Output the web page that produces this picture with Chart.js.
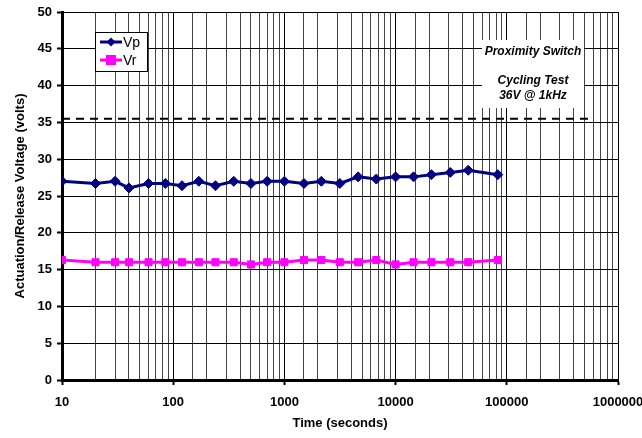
<!DOCTYPE html>
<html>
<head>
<meta charset="utf-8">
<script src="https://cdn.jsdelivr.net/npm/chart.js@4"></script>
<style>
  html, body { margin: 0; padding: 0; background: #fff; }
  #wrap { width: 642px; height: 438px; }
</style>
</head>
<body>
<div id="wrap"><canvas id="myChart" width="642" height="438"></canvas></div>
<script>
// time in seconds (log axis)
var times = [10, 20, 30, 40, 60, 85, 120, 170, 240, 350, 500, 700, 1000,
    1500, 2150, 3150, 4600, 6700, 10000, 14500, 21000, 31000, 45000, 83000];
var vp = [27.0, 26.7, 27.0, 26.1, 26.7, 26.7, 26.4, 27.0, 26.4, 27.0, 26.7, 27.0, 27.0,
    26.7, 27.0, 26.7, 27.6, 27.3, 27.6, 27.6, 27.9, 28.2, 28.5, 27.9];
var vr = [16.3, 16.0, 16.0, 16.0, 16.0, 16.0, 16.0, 16.0, 16.0, 16.0, 15.7, 16.0, 16.0,
    16.3, 16.3, 16.0, 16.0, 16.3, 15.7, 16.0, 16.0, 16.0, 16.0, 16.3];
var testLevel = 35.5;
var testLevelRange = [10, 600000];
var noteLines = ["Proximity Switch", "", "Cycling Test", "36V @ 1kHz"];

function pts(ys) {
    return ys.map(function (y, i) { return { x: times[i], y: y }; });
}

function isDecade(v) {
    var l = Math.log10(v);
    return Math.abs(l - Math.round(l)) < 1e-6;
}

var overlay = {
    id: "overlay",
    afterDraw: function (chart) {
        var c = chart.ctx;
        var a = chart.chartArea;
        c.save();
        // legend
        var lx = a.left + 33, ly = a.top + 20;
        c.fillStyle = "#fff";
        c.fillRect(lx, ly, 52, 39);
        c.strokeStyle = "#000";
        c.lineWidth = 1;
        c.strokeRect(lx + 0.5, ly + 0.5, 52, 39);
        var rows = [
            { name: "Vp", color: "#000080", shape: "diamond" },
            { name: "Vr", color: "#FF00FF", shape: "square" },
        ];
        rows.forEach(function (r, i) {
            var y = ly + 10 + i * 18;
            c.strokeStyle = r.color;
            c.lineWidth = 3;
            c.beginPath();
            c.moveTo(lx + 5, y);
            c.lineTo(lx + 27, y);
            c.stroke();
            c.fillStyle = r.color;
            var mx = lx + 16;
            if (r.shape === "diamond") {
                c.beginPath();
                c.moveTo(mx, y - 4.5);
                c.lineTo(mx + 4.5, y);
                c.lineTo(mx, y + 4.5);
                c.lineTo(mx - 4.5, y);
                c.closePath();
                c.fill();
            } else {
                c.fillRect(mx - 5, y - 5, 10, 10);
            }
            c.fillStyle = "#000";
            c.font = "14px Arial, 'Liberation Sans', sans-serif";
            c.textAlign = "left";
            c.textBaseline = "middle";
            c.fillText(r.name, lx + 28, y + 1);
        });
        // note box
        var bx = a.left + 420, by = a.top + 28;
        c.fillStyle = "#fff";
        c.fillRect(bx, by, 102, 68);
        c.fillStyle = "#000";
        c.font = "italic bold 12px Arial, 'Liberation Sans', sans-serif";
        c.textAlign = "center";
        c.textBaseline = "middle";
        noteLines.forEach(function (t, i) {
            if (t) c.fillText(t, bx + 51, by + 12 + i * 14.5);
        });
        c.restore();
    },
};

var ctx = document.getElementById("myChart").getContext("2d");

var myChart = new Chart(ctx, {
    type: "line",
    data: {
        datasets: [
            {
                label: "Vp",
                data: pts(vp),
                borderColor: "#000080",
                backgroundColor: "#000080",
                borderWidth: 3,
                pointStyle: "rectRot",
                pointRadius: 5,
                pointBorderWidth: 1,
                tension: 0,
            },
            {
                label: "Vr",
                data: pts(vr),
                borderColor: "#FF00FF",
                backgroundColor: "#FF00FF",
                borderWidth: 3,
                pointStyle: "rect",
                pointRadius: 5,
                pointBorderWidth: 1,
                tension: 0,
            },
            {
                label: "test",
                data: testLevelRange.map(function (x) { return { x: x, y: testLevel }; }),
                borderColor: "#000",
                borderWidth: 2,
                borderDash: [8, 6],
                pointRadius: 0,
            },
        ],
    },
    options: {
        responsive: false,
        animation: false,
        layout: { padding: { top: 12, right: 24, bottom: 0, left: 0 } },
        plugins: {
            legend: { display: false },
            tooltip: { enabled: false },
        },
        scales: {
            x: {
                type: "logarithmic",
                min: 10,
                max: 1000000,
                afterFit: function (s) {
                    s.paddingLeft = 0;
                    s.paddingRight = 0;
                    s.height = 58;
                },
                border: { color: "#000", width: 3 },
                grid: {
                    color: function (c) {
                        return c.tick && isDecade(c.tick.value) ? "#000" : "#444";
                    },
                    lineWidth: 1,
                    tickLength: 5,
                    tickColor: function (c) {
                        return c.tick && isDecade(c.tick.value) ? "#000" : "rgba(0,0,0,0)";
                    },
                    tickWidth: 2,
                },
                ticks: {
                    autoSkip: false,
                    maxRotation: 0,
                    padding: 10,
                    color: "#000",
                    font: { family: "Arial, 'Liberation Sans', sans-serif", size: 13, weight: "bold" },
                    callback: function (v) {
                        return isDecade(v) ? String(Math.round(v)) : "";
                    },
                },
                title: {
                    display: true,
                    text: "Time (seconds)",
                    color: "#000",
                    padding: { top: 0, bottom: 7 },
                    font: { family: "Arial, 'Liberation Sans', sans-serif", size: 13, weight: "bold" },
                },
            },
            y: {
                min: 0,
                max: 50,
                afterFit: function (s) {
                    s.width = 62;
                    s.paddingTop = 0;
                    s.paddingBottom = 0;
                },
                border: { color: "#000", width: 3 },
                grid: {
                    color: "#000",
                    lineWidth: 1,
                    tickLength: 5,
                    tickWidth: 2,
                },
                ticks: {
                    stepSize: 5,
                    padding: 5,
                    color: "#000",
                    font: { family: "Arial, 'Liberation Sans', sans-serif", size: 13, weight: "bold" },
                },
                title: {
                    display: true,
                    text: "Actuation/Release Voltage (volts)",
                    color: "#000",
                    padding: { top: 13, bottom: 0 },
                    font: { family: "Arial, 'Liberation Sans', sans-serif", size: 13, weight: "bold" },
                },
            },
        },
    },
    plugins: [overlay],
});
</script>
</body>
</html>
